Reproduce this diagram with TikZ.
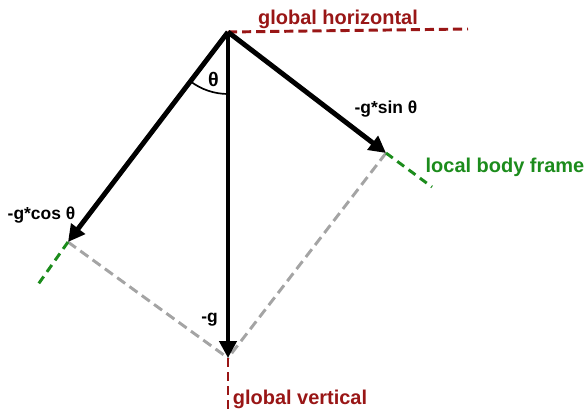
\documentclass[tikz,border=0pt]{standalone}
\usepackage{fontspec}
\setmainfont{Liberation Sans}
\usetikzlibrary{arrows.meta}
\definecolor{gvred}{HTML}{991616}
\definecolor{gvgreen}{HTML}{1C8C1C}
\definecolor{gvgray}{HTML}{A4A4A4}
\begin{document}
\begin{tikzpicture}[
  x=0.025cm,y=-0.025cm,
  vec/.style={-{Triangle[length=12pt,width=12pt]},line width=3.5pt,black},
  proj/.style={gvgray,line width=2.1pt,dash pattern=on 7pt off 3.8pt},
  local/.style={gvgreen,line width=2.1pt,dash pattern=on 6pt off 4pt},
  global/.style={gvred,line width=2.1pt,dash pattern=on 6.5pt off 3.5pt},
  lbl/.style={font=\fontsize{12.4}{14}\selectfont\bfseries,inner sep=0pt},
  axlbl/.style={font=\fontsize{14.2}{16}\selectfont\bfseries,inner sep=0pt}
]
\useasboundingbox (0,0) rectangle (586,413);
% points
\coordinate (o) at (228,32);
\coordinate (g) at (228,358);
\coordinate (cg) at (68,242);
\coordinate (sg) at (386,153);
\coordinate (hend) at (468,29);
\coordinate (vend) at (228,413);
\coordinate (lend) at (37,286);
\coordinate (rend) at (432,187);
% projection lines
\draw[proj] (cg) -- (g);
\draw[proj] (sg) -- (g);
% frames
\draw[local] (cg) -- (lend);
\draw[local] (sg) -- (rend);
\draw[global] (o) -- (hend);
\draw[global] (g) -- (vend);
% angle
\draw[line width=1.2pt] (o) ++(90:62) arc[start angle=90,end angle=127.3,radius=62];
\node[lbl,font=\fontsize{14}{16}\selectfont\bfseries] (theta) at (213.5,79.5) {θ};
% vectors
\draw[vec] (o) -- (g);
\draw[vec] (o) -- (cg);
\draw[vec] (o) -- (sg);
% labels
\node[axlbl,text=gvred] (ghor) at (338,19.5) {global horizontal};
\node[axlbl,text=gvred] (gver) at (300,399) {global vertical};
\node[axlbl,text=gvgreen] (lbf) at (505,167.5) {local body frame};
\node[lbl] (sinlbl) at (386,109) {-g*sin θ};
\node[lbl] (coslbl) at (41.5,214.7) {-g*cos θ};
\node[lbl] (glbl) at (209.5,320) {-g};
\end{tikzpicture}
\end{document}
